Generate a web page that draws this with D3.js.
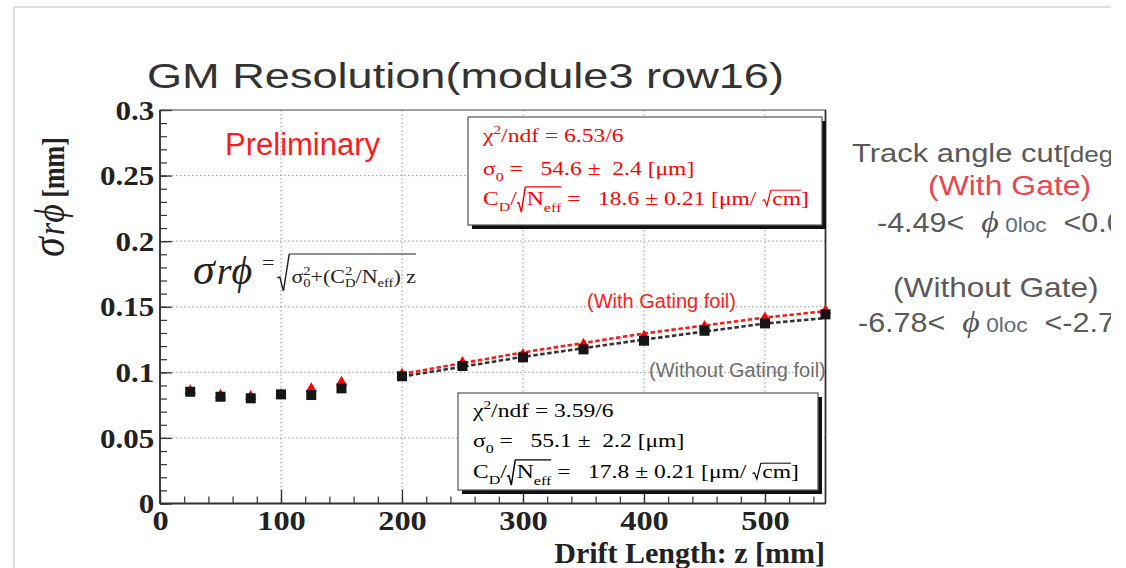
<!DOCTYPE html>
<html><head><meta charset="utf-8">
<script src="https://cdn.jsdelivr.net/npm/d3@7"></script>
<style>html,body{margin:0;padding:0;background:#fff;overflow:hidden}</style>
</head><body>
<svg id="c" width="1126" height="568"></svg>
<script>
// ---------------- data ----------------
const driftZ = [25, 50, 75, 100, 125, 150, 200, 250, 300, 350, 400, 450, 500, 550];
const withGate = [0.0860, 0.0825, 0.0815, 0.0830, 0.0875, 0.0925, 0.0985, 0.1075, 0.1135, 0.1215, 0.1275, 0.1350, 0.1415, 0.1470];
const withoutGate = [0.0852, 0.0814, 0.0802, 0.0832, 0.0827, 0.0878, 0.0970, 0.1048, 0.1114, 0.1175, 0.1241, 0.1317, 0.1373, 0.1442];
const fitZ = [200, 300, 400, 500, 550];
const fitWithGate = [0.0988, 0.1152, 0.1296, 0.1418, 0.1466];
const fitWithoutGate = [0.0968, 0.1118, 0.1250, 0.1372, 0.1414];
const xTicks = [0, 100, 200, 300, 400, 500];
const xTickLabels = ["0", "100", "200", "300", "400", "500"];
const yTicks = [0, 0.05, 0.1, 0.15, 0.2, 0.25, 0.3];
const yTickLabels = ["0", "0.05", "0.1", "0.15", "0.2", "0.25", "0.3"];
const xMinor = d3.range(0, 551, 20);
const yMinor = d3.range(0, 0.3001, 0.01);
const titleText = "GM Resolution(module3 row16)";
const fitWith = {chi: "6.53/6", s0: "54.6 ±  2.4", cd: "18.6 ± 0.21"};
const fitWithout = {chi: "3.59/6", s0: "55.1 ±  2.2", cd: "17.8 ± 0.21"};

const SERIF = "'Liberation Serif','Times New Roman',serif";
const SANS = "'Liberation Sans',Arial,sans-serif";
const PHI = "\u03D5";

const svg = d3.select("#c");

// rich text helper
function rich(parent, x, y, segs, o) {
  o = Object.assign({fs: 18, fam: SERIF, fill: "#000", sx: 1, anchor: "start", wt: "normal", st: "normal"}, o || {});
  const g = parent.append("g");
  const inner = g.append("g");
  let cx = 0;
  const ols = [];
  segs.forEach(s => {
    const fs = s.fs || o.fs;
    const fill = s.fill || o.fill;
    if (s.sqrt) {
      const top = s.top, bot = s.bot, w = s.w || fs * 0.5;
      inner.append("path")
        .attr("d", `M${cx},${bot - (bot - top) * 0.35} l${w * 0.2},${-w * 0.1} L${cx + w * 0.45},${bot} L${cx + w * 0.85},${top}`)
        .attr("fill", "none").attr("stroke", fill).attr("stroke-width", s.sw || 1.2);
      ols.push({x0: cx + w * 0.85, x1: cx + w, y: top, fill, sw: s.sw || 1.2});
      cx += w;
      return;
    }
    const t = inner.append("text").attr("x", cx).attr("y", s.dy || 0)
      .attr("font-family", s.fam || o.fam).attr("font-size", fs)
      .attr("font-weight", s.wt || o.wt).attr("font-style", s.st || o.st)
      .attr("fill", fill).style("white-space", "pre").text(s.t);
    const w = t.node().getComputedTextLength();
    if (s.ol && ols.length) ols[ols.length - 1].x1 = cx + w;
    if (!s.noadv) cx += w + (s.gap || 0);
  });
  ols.forEach(l => inner.append("line").attr("x1", l.x0).attr("x2", l.x1).attr("y1", l.y).attr("y2", l.y)
    .attr("stroke", l.fill).attr("stroke-width", l.sw));
  const shift = o.anchor === "end" ? -cx : o.anchor === "middle" ? -cx / 2 : 0;
  g.attr("transform", `translate(${x},${y}) scale(${o.sx},1)`);
  inner.attr("transform", `translate(${shift},0)`);
  return g;
}

// slide frame
svg.append("line").attr("x1", 14).attr("x2", 1111).attr("y1", 7).attr("y2", 7).attr("stroke", "#d4d4d4").attr("stroke-width", 1.5);
svg.append("line").attr("x1", 14).attr("x2", 14).attr("y1", 7).attr("y2", 568).attr("stroke", "#d4d4d4").attr("stroke-width", 1.5);

// scales
const x = d3.scaleLinear().domain([0, 550]).range([160, 825.5]);
const y = d3.scaleLinear().domain([0, 0.3]).range([503.5, 110]);

// grid
const grid = svg.append("g").attr("stroke", "#9a9a9a").attr("stroke-width", 1).attr("stroke-dasharray", "1.5,2.5");
grid.selectAll(".gx").data(xTicks.filter(v => v > 0)).join("line")
  .attr("x1", d => x(d)).attr("x2", d => x(d)).attr("y1", y(0)).attr("y2", y(0.3));
grid.selectAll(".gy").data(yTicks.filter(v => v > 0 && v < 0.3)).join("line")
  .attr("x1", x(0)).attr("x2", x(550)).attr("y1", d => y(d)).attr("y2", d => y(d));

// axes
const yAxisMaj = d3.axisLeft(y).tickValues(yTicks).tickSize(-12).tickPadding(5)
  .tickFormat((d, i) => yTickLabels[i]);
const gy = svg.append("g").attr("transform", `translate(${x(0)},0)`).call(yAxisMaj);
gy.select(".domain").remove();
gy.selectAll("line").attr("stroke", "#333").attr("stroke-width", 1.3);
gy.selectAll("text").attr("font-family", SERIF).attr("font-weight", "bold").attr("font-size", 27)
  .attr("fill", "#222").attr("dy", "0.34em").attr("transform", "scale(1.15,1)");
const gyMin = svg.append("g").attr("transform", `translate(${x(0)},0)`)
  .call(d3.axisLeft(y).tickValues(yMinor).tickSize(-7).tickFormat(""));
gyMin.select(".domain").remove();
gyMin.selectAll("line").attr("stroke", "#333").attr("stroke-width", 1.2);

const xAxisMaj = d3.axisBottom(x).tickValues(xTicks).tickSize(-14).tickPadding(7)
  .tickFormat((d, i) => xTickLabels[i]);
const gx = svg.append("g").attr("transform", `translate(0,${y(0)})`).call(xAxisMaj);
gx.select(".domain").remove();
gx.selectAll("line").attr("stroke", "#333").attr("stroke-width", 1.3);
gx.selectAll("text").attr("font-family", SERIF).attr("font-weight", "bold").attr("font-size", 27)
  .attr("fill", "#222").attr("transform", "scale(1.2,1)");
const gxMin = svg.append("g").attr("transform", `translate(0,${y(0)})`)
  .call(d3.axisBottom(x).tickValues(xMinor).tickSize(-7).tickFormat(""));
gxMin.select(".domain").remove();
gxMin.selectAll("line").attr("stroke", "#333").attr("stroke-width", 1.2);

// frame
svg.append("rect").attr("x", x(0)).attr("y", y(0.3)).attr("width", x(550) - x(0)).attr("height", y(0) - y(0.3))
  .attr("fill", "none").attr("stroke", "#444").attr("stroke-width", 1);
svg.append("line").attr("x1", x(0)).attr("x2", x(0)).attr("y1", y(0)).attr("y2", y(0.3)).attr("stroke", "#333").attr("stroke-width", 1.8);
svg.append("line").attr("x1", x(0)).attr("x2", x(550)).attr("y1", y(0)).attr("y2", y(0)).attr("stroke", "#333").attr("stroke-width", 1.8);
svg.append("line").attr("x1", x(550)).attr("x2", x(550)).attr("y1", y(0)).attr("y2", y(0.3)).attr("stroke", "#333").attr("stroke-width", 1.8);

// fit lines
const line = d3.line().x(d => x(d[0])).y(d => y(d[1]));
svg.append("path").datum(fitZ.map((z, i) => [z, fitWithGate[i]])).attr("d", line)
  .attr("fill", "none").attr("stroke", "#ff1a1a").attr("stroke-width", 2.6).attr("stroke-dasharray", "4.5,2.5");
svg.append("path").datum(fitZ.map((z, i) => [z, fitWithoutGate[i]])).attr("d", line)
  .attr("fill", "none").attr("stroke", "#333").attr("stroke-width", 2.6).attr("stroke-dasharray", "4.5,2.5");

// markers
svg.append("g").selectAll("path").data(driftZ.map((z, i) => [z, withGate[i]])).join("path")
  .attr("d", d3.symbol(d3.symbolTriangle, 55))
  .attr("transform", d => `translate(${x(d[0])},${y(d[1])})`).attr("fill", "#ff0000");
svg.append("g").selectAll("rect").data(driftZ.map((z, i) => [z, withoutGate[i]])).join("rect")
  .attr("x", d => x(d[0]) - 5).attr("y", d => y(d[1]) - 5).attr("width", 10).attr("height", 10)
  .attr("fill", "#151515");

// stat boxes
function statBox(bx, by, bw, bh, col, f, baselines) {
  const g = svg.append("g");
  g.append("rect").attr("x", bx + 4).attr("y", by + 4).attr("width", bw).attr("height", bh).attr("fill", "#111");
  g.append("rect").attr("x", bx).attr("y", by).attr("width", bw).attr("height", bh).attr("fill", "#fff")
    .attr("stroke", "#555").attr("stroke-width", 1.2);
  const F = 19, o = {fs: F, fill: col, sx: 1.24};
  const tx = bx + 15;
  rich(g, tx, baselines[0], [{t: "χ"}, {t: "2", fs: F * 0.65, dy: -F * 0.42}, {t: "/ndf = " + f.chi}], o);
  rich(g, tx, baselines[1], [{t: "σ"}, {t: "0", fs: F * 0.68, dy: F * 0.35}, {t: " =   " + f.s0 + " [μm]"}], o);
  rich(g, tx, baselines[2], [{t: "C"}, {t: "D", fs: F * 0.68, dy: F * 0.32}, {t: "/"},
    {sqrt: true, top: -F * 0.95, bot: F * 0.38, w: F * 0.42, sw: 1.2},
    {t: "N", ol: true}, {t: "eff", fs: F * 0.68, dy: F * 0.35, ol: true},
    {t: " =   " + f.cd + " [μm/ "}, {sqrt: true, top: -F * 0.78, bot: F * 0.05, w: F * 0.42, sw: 1},
    {t: "cm", ol: true}, {t: "]"}], o);
}
statBox(468, 117, 354, 108, "#ff0000", fitWith, [141.5, 174.5, 205]);
statBox(458, 393, 360, 97, "#000", fitWithout, [416.5, 446.5, 478]);

// in-plot labels
svg.append("text").attr("x", 225).attr("y", 155).attr("font-family", SANS).attr("font-size", 31)
  .attr("fill", "#ff1a1a").text("Preliminary");
svg.append("text").attr("x", 587).attr("y", 308).attr("font-family", SANS).attr("font-size", 20)
  .attr("fill", "#ff2020").text("(With Gating foil)");
svg.append("text").attr("x", 649).attr("y", 377).attr("font-family", SANS).attr("font-size", 20)
  .attr("fill", "#6e6e6e").text("(Without Gating foil)");

// formula
rich(svg, 193, 284, [{t: "σ", fs: 44}, {t: " ", fs: 8}, {t: "r", fs: 38}, {t: PHI, fs: 40}],
  {fam: SERIF, st: "italic", fill: "#222"});
rich(svg, 262, 283, [{t: "=", fs: 18, dy: -14, gap: 2},
  {sqrt: true, top: -29, bot: 8, w: 12, sw: 1.2},
  {t: "σ", ol: true}, {t: "2", fs: 12, dy: -8, noadv: true, ol: true}, {t: "0", fs: 12, dy: 4, ol: true},
  {t: "+(C", ol: true}, {t: "2", fs: 12, dy: -8, noadv: true, ol: true}, {t: "D", fs: 12, dy: 4, ol: true},
  {t: "/N", ol: true}, {t: "eff", fs: 12, dy: 4, ol: true}, {t: ") z", ol: true}],
  {fs: 18, fill: "#222", sx: 1.22});

// title
svg.append("text").attr("x", 147).attr("y", 88).attr("font-family", SANS).attr("font-size", 35)
  .attr("fill", "#333").attr("textLength", 637).attr("lengthAdjust", "spacingAndGlyphs").text(titleText);

// y axis title (rotated)
const yt = svg.append("g").attr("transform", "translate(64,257) scale(1.2,1) rotate(-90)");
rich(yt, 0, 0, [{t: "σ", fs: 40, st: "italic"}, {t: " ", fs: 8}, {t: "r", fs: 32, st: "italic"}, {t: PHI, fs: 36, st: "italic"},
  {t: " [mm]", fs: 26, wt: "bold"}], {fam: SERIF, fill: "#222"});

// x axis title
svg.append("text").attr("x", 825).attr("y", 563).attr("text-anchor", "end").attr("font-family", SERIF)
  .attr("font-weight", "bold").attr("font-size", 30).attr("fill", "#222").text("Drift Length: z [mm]");

// right annotation (clipped by slide edge)
svg.append("clipPath").attr("id", "slideclip").append("rect").attr("x", 0).attr("y", 0).attr("width", 1111).attr("height", 568);
const ann = svg.append("g").attr("clip-path", "url(#slideclip)");
const GRAY = "#5a5a5a";
rich(ann, 852, 162, [{t: "Track angle cut", fs: 26}, {t: "[deg]", fs: 22}], {fam: SANS, fill: GRAY, sx: 1.19});
rich(ann, 928, 195, [{t: "(With Gate)"}], {fam: SANS, fs: 28, fill: "#eb4550", sx: 1.14});
rich(ann, 877, 232, [{t: "-4.49<  "}, {t: PHI, fam: SERIF, st: "italic", fs: 30, fill: "#555"},
  {t: " 0loc", fs: 20, fill: "#5d6b7b"}, {t: "  <0.07"}], {fam: SANS, fs: 27, fill: GRAY, sx: 1.13});
rich(ann, 893, 297, [{t: "(Without Gate)"}], {fam: SANS, fs: 28, fill: GRAY, sx: 1.13});
rich(ann, 858, 332, [{t: "-6.78<  "}, {t: PHI, fam: SERIF, st: "italic", fs: 30, fill: "#555"},
  {t: " 0loc", fs: 20, fill: "#5d6b7b"}, {t: "  <-2.7"}], {fam: SANS, fs: 27, fill: GRAY, sx: 1.13});
</script>
</body></html>
